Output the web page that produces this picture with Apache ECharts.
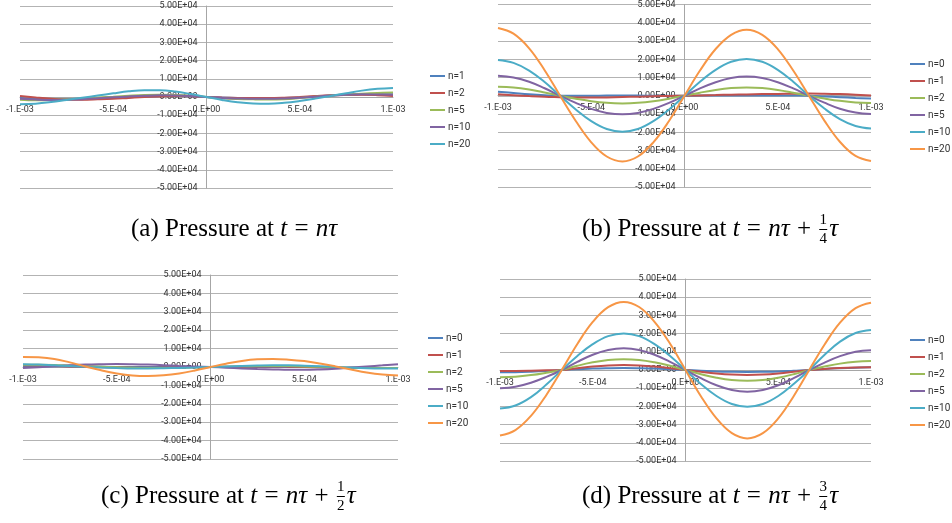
<!DOCTYPE html>
<html><head><meta charset="utf-8">
<script src="https://cdn.jsdelivr.net/npm/echarts@6/dist/echarts.min.js"></script>
<style>html,body{margin:0;padding:0;background:#fff}#c{width:952px;height:523px}</style>
</head><body><div id="c"></div>
<script>
// x positions in units of 1E-04
const xPos = [-10,-9.17,-8.33,-7.5,-6.67,-5.83,-5,-4.17,-3.33,-2.5,-1.67,-0.83,0,0.83,1.67,2.5,3.33,4.17,5,5.83,6.67,7.5,8.33,9.17,10];
const xTickLabels = ['-1.E-03','-5.E-04','0.E+00','5.E-04','1.E-03'];
const yTickLabels = ['-5.00E+04','-4.00E+04','-3.00E+04','-2.00E+04','-1.00E+04','0.00E+00','1.00E+04','2.00E+04','3.00E+04','4.00E+04','5.00E+04'];

// pressure values in units of 1E+04
// (a) t = n*tau
const aNames = ['n=1','n=2','n=5','n=10','n=20'];
const a_n1  = [-0.05,-0.09,-0.11,-0.12,-0.12,-0.10,-0.05,-0.01,0.03,0.05,0.06,0.04,0,-0.03,-0.06,-0.08,-0.08,-0.06,-0.02,0.03,0.08,0.12,0.14,0.15,0.15];
const a_n2  = [0.05,-0.03,-0.10,-0.14,-0.15,-0.13,-0.10,-0.05,0.00,0.03,0.05,0.04,0,-0.03,-0.05,-0.06,-0.06,-0.04,0.00,0.05,0.09,0.11,0.12,0.10,0.06];
const a_n5  = [-0.15,-0.18,-0.17,-0.14,-0.09,-0.03,0.02,0.07,0.11,0.12,0.11,0.07,0,-0.07,-0.11,-0.13,-0.14,-0.12,-0.06,0.01,0.08,0.14,0.18,0.22,0.25];
const a_n10 = [-0.10,-0.14,-0.16,-0.15,-0.12,-0.07,-0.02,0.03,0.07,0.09,0.08,0.05,0,-0.05,-0.08,-0.10,-0.10,-0.08,-0.04,0.02,0.08,0.13,0.15,0.14,0.12];
const a_n20 = [-0.40,-0.37,-0.28,-0.16,-0.04,0.08,0.20,0.31,0.37,0.37,0.30,0.16,0,-0.16,-0.29,-0.36,-0.37,-0.32,-0.22,-0.09,0.06,0.21,0.35,0.45,0.50];

// (b) t = n*tau + tau/4
const bNames = ['n=0','n=1','n=2','n=5','n=10','n=20'];
const b_n0  = [0.22,0.15,0.08,0.03,0.00,0.00,0.00,0.01,0.01,0.01,0.00,0.00,0,0.01,0.02,0.02,0.02,0.02,0.02,0.01,0.00,-0.04,-0.08,-0.12,-0.15];
const b_n1  = [0.08,0.03,-0.02,-0.06,-0.08,-0.10,-0.10,-0.09,-0.07,-0.05,-0.03,-0.01,0,0.02,0.04,0.06,0.07,0.09,0.10,0.11,0.12,0.11,0.09,0.06,0.02];
const b_n2  = [0.49,0.45,0.34,0.18,0,-0.16,-0.30,-0.39,-0.42,-0.39,-0.30,-0.16,0,0.17,0.32,0.42,0.45,0.42,0.32,0.17,0,-0.15,-0.28,-0.37,-0.40];
const b_n5  = [1.09,1.00,0.77,0.41,0,-0.39,-0.72,-0.94,-1.02,-0.94,-0.72,-0.39,0,0.40,0.74,0.97,1.05,0.97,0.74,0.40,0,-0.38,-0.71,-0.92,-1.00];
const b_n10 = [1.96,1.80,1.38,0.75,0,-0.75,-1.39,-1.82,-1.97,-1.82,-1.39,-0.75,0,0.77,1.42,1.86,2.02,1.86,1.42,0.77,0,-0.70,-1.28,-1.66,-1.80];
const b_n20 = [3.71,3.40,2.60,1.40,0,-1.38,-2.55,-3.33,-3.60,-3.33,-2.55,-1.38,0,1.38,2.56,3.34,3.62,3.34,2.56,1.38,0,-1.36,-2.52,-3.30,-3.57];

// (c) t = n*tau + tau/2
const cNames = ['n=0','n=1','n=2','n=5','n=10','n=20'];
const c_n0  = [0.05,0.05,0.04,0.03,0.02,0.01,0.00,0,0,0,0,0,0,0,0,0,0,0,0,-0.01,-0.02,-0.03,-0.04,-0.05,-0.05];
const c_n1  = [0.10,0.08,0.06,0.03,0.01,-0.01,-0.03,-0.04,-0.04,-0.03,-0.02,-0.01,0,0.01,0.02,0.03,0.03,0.02,0.00,-0.02,-0.04,-0.05,-0.05,-0.05,-0.05];
const c_n2  = [0.12,0.12,0.11,0.08,0.05,0.02,-0.01,-0.04,-0.05,-0.05,-0.04,-0.02,0,0.02,0.04,0.05,0.06,0.05,0.03,0.01,-0.01,-0.04,-0.05,-0.06,-0.06];
const c_n5  = [-0.05,-0.01,0.04,0.09,0.13,0.15,0.16,0.15,0.13,0.10,0.06,0.03,0,-0.04,-0.08,-0.11,-0.13,-0.15,-0.15,-0.13,-0.09,-0.03,0.03,0.09,0.15];
const c_n10 = [0.15,0.13,0.09,0.05,0.01,-0.03,-0.06,-0.08,-0.08,-0.07,-0.05,-0.03,0,0.03,0.06,0.08,0.09,0.09,0.07,0.04,0.00,-0.04,-0.07,-0.08,-0.08];
const c_n20 = [0.55,0.53,0.44,0.25,0.03,-0.18,-0.35,-0.46,-0.49,-0.45,-0.35,-0.19,0,0.18,0.33,0.42,0.44,0.40,0.32,0.19,0.03,-0.14,-0.30,-0.41,-0.46];

// (d) t = n*tau + 3tau/4
const dNames = ['n=0','n=1','n=2','n=5','n=10','n=20'];
const d_n0  = [-0.13,-0.12,-0.09,-0.05,0,0.04,0.08,0.10,0.11,0.10,0.08,0.04,0,-0.04,-0.08,-0.10,-0.11,-0.10,-0.08,-0.04,0,0.06,0.10,0.13,0.15];
const d_n1  = [-0.05,-0.05,-0.04,-0.02,0,0.10,0.19,0.25,0.27,0.25,0.19,0.10,0,-0.10,-0.19,-0.25,-0.27,-0.25,-0.19,-0.10,0,0.06,0.11,0.14,0.15];
const d_n2  = [-0.40,-0.37,-0.28,-0.15,0,0.23,0.42,0.55,0.59,0.55,0.42,0.23,0,-0.23,-0.42,-0.55,-0.59,-0.55,-0.42,-0.23,0,0.19,0.35,0.45,0.49];
const d_n5  = [-1.00,-0.92,-0.70,-0.38,0,0.45,0.84,1.10,1.19,1.10,0.84,0.45,0,-0.45,-0.84,-1.10,-1.19,-1.10,-0.84,-0.45,0,0.41,0.76,1.00,1.08];
const d_n10 = [-2.12,-1.95,-1.49,-0.80,0,0.77,1.42,1.86,2.01,1.86,1.42,0.77,0,-0.77,-1.43,-1.87,-2.02,-1.87,-1.43,-0.77,0,0.84,1.56,2.03,2.20];
const d_n20 = [-3.60,-3.30,-2.52,-1.37,0,1.43,2.64,3.45,3.74,3.46,2.65,1.44,0,-1.44,-2.66,-3.47,-3.76,-3.47,-2.66,-1.44,0,1.40,2.60,3.40,3.70];

const palette = ['#4F81BD','#C0504D','#9BBB59','#8064A2','#4BACC6','#F79646'];

const panels = [
  {key:'a', names:aNames, data:[a_n1,a_n2,a_n5,a_n10,a_n20],
   grid:{left:20, top:6, width:373, height:182}, legend:{left:430, top:69}},
  {key:'b', names:bNames, data:[b_n0,b_n1,b_n2,b_n5,b_n10,b_n20],
   grid:{left:498, top:3, width:373, height:184}, legend:{left:910, top:57}},
  {key:'c', names:cNames, data:[c_n0,c_n1,c_n2,c_n5,c_n10,c_n20],
   grid:{left:23, top:275, width:375, height:184}, legend:{left:428, top:331}},
  {key:'d', names:dNames, data:[d_n0,d_n1,d_n2,d_n5,d_n10,d_n20],
   grid:{left:500, top:279, width:371, height:182}, legend:{left:910, top:333}}
];

const labelFont = "Roboto, 'Liberation Sans', sans-serif";
const grids=[], xAxes=[], yAxes=[], legends=[], series=[];
panels.forEach((p,gi)=>{
  grids.push(Object.assign({containLabel:false}, p.grid));
  xAxes.push({gridIndex:gi, type:'value', min:-10, max:10, interval:5, position:'bottom',
    offset:-p.grid.height/2,
    axisLine:{show:true, onZero:false, lineStyle:{color:'#a6a6a6', width:1}},
    axisTick:{show:false}, splitLine:{show:false},
    axisLabel:{formatter:v=>xTickLabels[Math.round((v+10)/5)], fontSize:9, color:'#333', margin:8, fontFamily:labelFont, showMinLabel:true, showMaxLabel:true}});
  yAxes.push({gridIndex:gi, type:'value', min:-5, max:5, interval:1, position:'left',
    offset:-p.grid.width/2,
    axisLine:{show:true, onZero:false, lineStyle:{color:'#a6a6a6', width:1}},
    axisTick:{show:false},
    splitLine:{show:true, lineStyle:{color:'#b3b3b3', width:1}},
    axisLabel:{formatter:v=>yTickLabels[Math.round(v+5)], fontSize:9, color:'#333', margin:9, fontFamily:labelFont}});
  const ids = p.names.map(n=>p.key+'|'+n);
  legends.push({orient:'vertical', left:p.legend.left, top:p.legend.top, padding:0, itemWidth:15, itemHeight:2, itemGap:3,
    icon:'rect', selectedMode:false, data:ids, formatter:n=>n.split('|')[1],
    textStyle:{fontSize:10, lineHeight:14, color:'#333', fontFamily:labelFont, padding:[0,0,0,-2]}});
  p.data.forEach((arr,si)=>{
    const col = palette[si];
    series.push({type:'line', name:ids[si], xAxisIndex:gi, yAxisIndex:gi,
      data:xPos.map((x,i)=>[x,arr[i]]), smooth:0.4, symbol:'none', silent:true,
      lineStyle:{width:2, color:col}, itemStyle:{color:col}});
  });
});

// captions
const serif = "'Liberation Serif','Times New Roman',serif";
const capSize = 25;
const fracSize = 15;
const mctx = document.createElement('canvas').getContext('2d');
function tw(text, italic){ mctx.font = (italic?'italic ':'') + capSize + "px 'Liberation Serif'"; return mctx.measureText(text).width; }
const graphics = [];
function addText(x, y, text, italic){
  graphics.push({type:'text', x:x, y:y, silent:true, style:{text:text, fontFamily:serif, fontSize:capSize, fontStyle:italic?'italic':'normal', fill:'#000', verticalAlign:'middle', align:'left'}});
  return x + tw(text, italic);
}
function addCaption(x, y, prefix, frac){
  let cx = x;
  cx = addText(cx, y, prefix + ' Pressure at ', false);
  cx = addText(cx, y, 't', true) + 1;
  cx = addText(cx, y, ' = ', false) + 1;
  cx = addText(cx, y, 'nτ', true) + 1;
  if(frac){
    cx = addText(cx, y, ' + ', false) + 1;
    const fx = cx + 5;
    graphics.push({type:'text', x:fx, y:y-9, silent:true, style:{text:frac[0], fontFamily:serif, fontSize:fracSize, fill:'#000', align:'center', verticalAlign:'middle'}});
    graphics.push({type:'line', silent:true, shape:{x1:fx-4, y1:y+0.5, x2:fx+4, y2:y+0.5}, style:{stroke:'#000', lineWidth:1}});
    graphics.push({type:'text', x:fx, y:y+10, silent:true, style:{text:frac[1], fontFamily:serif, fontSize:fracSize, fill:'#000', align:'center', verticalAlign:'middle'}});
    addText(fx + 6, y, 'τ', true);
  }
}
addCaption(131, 229, '(a)', null);
addCaption(582, 229, '(b)', ['1','4']);
addCaption(101, 496, '(c)', ['1','2']);
addCaption(582, 496, '(d)', ['3','4']);

const chart = echarts.init(document.getElementById('c'), null, {renderer:'canvas'});
chart.setOption({
  animation:false,
  grid:grids, xAxis:xAxes, yAxis:yAxes, legend:legends, series:series,
  graphic:graphics
});
</script></body></html>
